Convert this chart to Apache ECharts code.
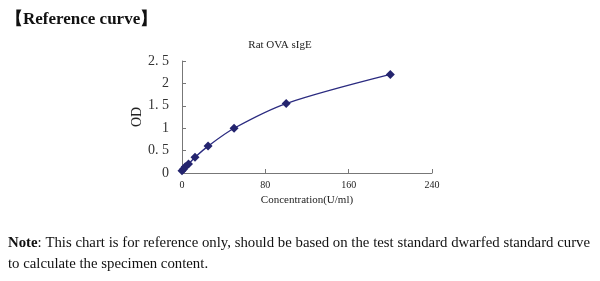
<!DOCTYPE html>
<html>
<head>
<meta charset="utf-8">
<script src="https://cdn.jsdelivr.net/npm/echarts@6/dist/echarts.min.js"></script>
<style>
html,body{margin:0;padding:0;background:#fff;}
#chart{width:600px;height:281px;}
</style>
</head>
<body>
<div id="chart"></div>
<script>
const concentrations = [0, 1.5625, 3.125, 6.25, 12.5, 25, 50, 100, 200];
const odValues = [0.05, 0.09, 0.14, 0.2, 0.35, 0.6, 1.0, 1.55, 2.2];
const xTicks = [0, 80, 160, 240];
const yTicks = [0, 0.5, 1, 1.5, 2, 2.5];
const headingText = '【Reference curve】';
const chartTitle = 'Rat OVA sIgE';
const xAxisTitle = 'Concentration(U/ml)';
const yAxisTitle = 'OD';
const noteLine1 = 'This chart is for reference only, should be based on the test standard dwarfed standard curve';
const noteLine2 = 'to calculate the specimen content.';

const chart = echarts.init(document.getElementById('chart'));
const serif = '"Liberation Serif", "DejaVu Serif", serif';
chart.setOption({
  animation: false,
  backgroundColor: '#fff',
  title: [
    {text: headingText, left: 1, top: 6, textStyle: {fontFamily: serif, fontWeight: 'bold', fontSize: 17, color: '#111'}},
    {text: chartTitle, left: 275, top: 35, textAlign: 'center', textStyle: {fontFamily: serif, fontWeight: 'normal', fontSize: 11, color: '#222'}}
  ],
  graphic: [
    {type: 'text', left: 8, top: 236, style: {rich: {b: {fontFamily: serif, fontWeight: 'bold', fontSize: 14.8, fill: '#111'}, n: {fontFamily: serif, fontSize: 14.8, fill: '#111'}}, text: '{b|Note}{n|: ' + noteLine1 + '}', fontFamily: serif, fontSize: 14.8}},
    {type: 'text', left: 8, top: 257, style: {text: noteLine2, fontFamily: serif, fontSize: 14.8, fill: '#111'}}
  ],
  grid: {left: 182, right: 168, top: 61, bottom: 108, containLabel: false},
  xAxis: {
    type: 'value', min: 0, max: 240, interval: 80,
    name: xAxisTitle, nameLocation: 'middle', nameGap: 22,
    nameTextStyle: {fontFamily: serif, fontSize: 11, color: '#222'},
    axisLine: {lineStyle: {color: '#777', width: 1}},
    axisTick: {inside: true, length: 4, lineStyle: {color: '#777'}},
    axisLabel: {fontFamily: serif, fontSize: 10, color: '#222', margin: 7,
      formatter: v => xTicks.includes(v) ? String(v) : ''},
    splitLine: {show: false}
  },
  yAxis: {
    type: 'value', min: 0, max: 2.5, interval: 0.5,
    name: yAxisTitle, nameLocation: 'middle', nameGap: 38, nameRotate: 90,
    nameTextStyle: {fontFamily: serif, fontSize: 14, color: '#222'},
    axisLine: {show: true, lineStyle: {color: '#777', width: 1}},
    axisTick: {show: true, inside: true, length: 4, lineStyle: {color: '#777'}},
    axisLabel: {fontFamily: serif, fontSize: 14, color: '#333', margin: 13,
      formatter: v => yTicks.includes(v) ? String(v).replace('.', '. ') : ''},
    splitLine: {show: false}
  },
  series: [{
    type: 'line',
    data: concentrations.map((c, i) => [c, odValues[i]]),
    smooth: 0.3,
    symbol: 'diamond', symbolSize: 9,
    lineStyle: {color: '#2b2b80', width: 1.3},
    itemStyle: {color: '#24246e'}
  }]
});
</script>
</body>
</html>
